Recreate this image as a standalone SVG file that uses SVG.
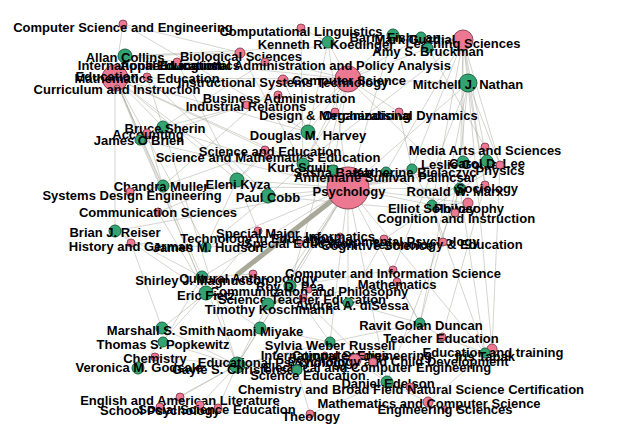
<svg xmlns="http://www.w3.org/2000/svg" width="628" height="445" viewBox="0 0 628 445">
<style>
.e{stroke:#aaaaa2;stroke-width:0.6;fill:none;opacity:0.85}
.p{fill:#ec7891;stroke:#8e4658;stroke-width:1}
.g{fill:#34a372;stroke:#1c6444;stroke-width:1}
text{font-family:"Liberation Sans",Arial,sans-serif;font-weight:bold;font-size:13px;fill:#000;text-anchor:middle;dominant-baseline:central}
</style>
<rect width="628" height="445" fill="#fff"/>
<g id="connectors">
<line class="e" x1="115" y1="78" x2="125" y2="56"/>
<line class="e" x1="115" y1="78" x2="163" y2="127"/>
<line class="e" x1="115" y1="78" x2="140" y2="140"/>
<line class="e" x1="115" y1="78" x2="163" y2="186"/>
<line class="e" x1="115" y1="78" x2="303" y2="164"/>
<line class="e" x1="115" y1="78" x2="308" y2="132"/>
<line class="e" x1="115" y1="78" x2="237" y2="180"/>
<line class="e" x1="115" y1="78" x2="115" y2="231"/>
<line class="e" x1="115" y1="78" x2="268" y2="196"/>
<line class="e" x1="115" y1="78" x2="206" y2="247"/>
<line class="e" x1="115" y1="78" x2="202" y2="277"/>
<line class="e" x1="115" y1="78" x2="348" y2="188"/>
<line class="e" x1="115" y1="78" x2="123" y2="24"/>
<line class="e" x1="115" y1="78" x2="348" y2="79"/>
<line class="e" x1="115" y1="78" x2="206" y2="293"/>
<line class="e" x1="125" y1="56" x2="348" y2="79"/>
<line class="e" x1="125" y1="56" x2="240" y2="53"/>
<line class="e" x1="125" y1="56" x2="463" y2="40"/>
<line class="e" x1="123" y1="24" x2="348" y2="79"/>
<line class="e" x1="123" y1="24" x2="308" y2="132"/>
<line class="e" x1="301" y1="28" x2="328" y2="42"/>
<line class="e" x1="301" y1="28" x2="303" y2="164"/>
<line class="e" x1="328" y1="42" x2="348" y2="79"/>
<line class="e" x1="328" y1="42" x2="348" y2="188"/>
<line class="e" x1="328" y1="42" x2="308" y2="132"/>
<line class="e" x1="393" y1="35" x2="463" y2="40"/>
<line class="e" x1="393" y1="35" x2="348" y2="79"/>
<line class="e" x1="393" y1="35" x2="348" y2="188"/>
<line class="e" x1="421" y1="37" x2="348" y2="79"/>
<line class="e" x1="421" y1="37" x2="463" y2="40"/>
<line class="e" x1="428" y1="48" x2="348" y2="79"/>
<line class="e" x1="428" y1="48" x2="485" y2="147"/>
<line class="e" x1="428" y1="48" x2="463" y2="40"/>
<line class="e" x1="463" y1="40" x2="468" y2="83"/>
<line class="e" x1="463" y1="40" x2="412" y2="169"/>
<line class="e" x1="463" y1="40" x2="460" y2="189"/>
<line class="e" x1="463" y1="40" x2="432" y2="205"/>
<line class="e" x1="463" y1="40" x2="463" y2="162"/>
<line class="e" x1="463" y1="40" x2="487" y2="161"/>
<line class="e" x1="463" y1="40" x2="303" y2="164"/>
<line class="e" x1="463" y1="40" x2="386" y2="172"/>
<line class="e" x1="463" y1="40" x2="500" y2="165"/>
<line class="e" x1="463" y1="40" x2="485" y2="185"/>
<line class="e" x1="468" y1="83" x2="348" y2="188"/>
<line class="e" x1="468" y1="83" x2="500" y2="165"/>
<line class="e" x1="468" y1="83" x2="455" y2="213"/>
<line class="e" x1="468" y1="83" x2="393" y2="270"/>
<line class="e" x1="468" y1="83" x2="348" y2="79"/>
<line class="e" x1="468" y1="83" x2="420" y2="323"/>
<line class="e" x1="468" y1="83" x2="492" y2="349"/>
<line class="e" x1="468" y1="83" x2="485" y2="185"/>
<line class="e" x1="348" y1="79" x2="308" y2="132"/>
<line class="e" x1="348" y1="79" x2="303" y2="164"/>
<line class="e" x1="348" y1="79" x2="237" y2="180"/>
<line class="e" x1="348" y1="79" x2="283" y2="80"/>
<line class="e" x1="348" y1="79" x2="399" y2="112"/>
<line class="e" x1="348" y1="79" x2="333" y2="170"/>
<line class="e" x1="348" y1="79" x2="290" y2="286"/>
<line class="e" x1="348" y1="79" x2="460" y2="189"/>
<line class="e" x1="240" y1="53" x2="303" y2="164"/>
<line class="e" x1="265" y1="62" x2="163" y2="127"/>
<line class="e" x1="177" y1="62" x2="237" y2="180"/>
<line class="e" x1="283" y1="80" x2="308" y2="132"/>
<line class="e" x1="283" y1="80" x2="163" y2="186"/>
<line class="e" x1="278" y1="95" x2="140" y2="140"/>
<line class="e" x1="247" y1="105" x2="163" y2="127"/>
<line class="e" x1="335" y1="112" x2="303" y2="164"/>
<line class="e" x1="399" y1="112" x2="412" y2="169"/>
<line class="e" x1="147" y1="133" x2="163" y2="186"/>
<line class="e" x1="147" y1="77" x2="163" y2="127"/>
<line class="e" x1="147" y1="77" x2="268" y2="196"/>
<line class="e" x1="163" y1="127" x2="348" y2="188"/>
<line class="e" x1="140" y1="140" x2="348" y2="188"/>
<line class="e" x1="163" y1="127" x2="237" y2="365"/>
<line class="e" x1="140" y1="140" x2="206" y2="293"/>
<line class="e" x1="265" y1="150" x2="237" y2="180"/>
<line class="e" x1="265" y1="150" x2="163" y2="186"/>
<line class="e" x1="348" y1="188" x2="303" y2="164"/>
<line class="e" x1="348" y1="188" x2="333" y2="170"/>
<line class="e" x1="348" y1="188" x2="386" y2="172"/>
<line class="e" x1="348" y1="188" x2="412" y2="169"/>
<line class="e" x1="348" y1="188" x2="432" y2="205"/>
<line class="e" x1="348" y1="188" x2="460" y2="189"/>
<line class="e" x1="348" y1="188" x2="463" y2="162"/>
<line class="e" x1="348" y1="188" x2="487" y2="161"/>
<line class="e" x1="348" y1="188" x2="268" y2="196"/>
<line class="e" x1="348" y1="188" x2="237" y2="180"/>
<line class="e" x1="348" y1="188" x2="348" y2="303"/>
<line class="e" x1="348" y1="188" x2="268" y2="304"/>
<line class="e" x1="348" y1="188" x2="290" y2="286"/>
<line class="e" x1="348" y1="188" x2="308" y2="132"/>
<line class="e" x1="348" y1="188" x2="206" y2="247"/>
<line class="e" x1="348" y1="188" x2="330" y2="342"/>
<line class="e" x1="348" y1="188" x2="260" y2="328"/>
<line class="e" x1="348" y1="188" x2="420" y2="323"/>
<line class="e" x1="348" y1="188" x2="115" y2="231"/>
<line class="e" x1="348" y1="188" x2="163" y2="186"/>
<line class="e" x1="348" y1="188" x2="202" y2="277"/>
<line class="e" x1="348" y1="188" x2="485" y2="353"/>
<line class="e" x1="348" y1="188" x2="387" y2="382"/>
<line class="e" x1="348" y1="188" x2="237" y2="365"/>
<line class="e" x1="348" y1="188" x2="500" y2="165"/>
<line class="e" x1="348" y1="188" x2="468" y2="203"/>
<line class="e" x1="485" y1="147" x2="463" y2="162"/>
<line class="e" x1="500" y1="165" x2="487" y2="161"/>
<line class="e" x1="500" y1="165" x2="460" y2="189"/>
<line class="e" x1="500" y1="165" x2="492" y2="349"/>
<line class="e" x1="485" y1="185" x2="460" y2="189"/>
<line class="e" x1="485" y1="185" x2="442" y2="337"/>
<line class="e" x1="468" y1="203" x2="432" y2="205"/>
<line class="e" x1="455" y1="213" x2="432" y2="205"/>
<line class="e" x1="455" y1="213" x2="386" y2="172"/>
<line class="e" x1="455" y1="213" x2="268" y2="196"/>
<line class="e" x1="443" y1="242" x2="432" y2="205"/>
<line class="e" x1="384" y1="239" x2="460" y2="189"/>
<line class="e" x1="384" y1="239" x2="206" y2="247"/>
<line class="e" x1="384" y1="239" x2="348" y2="303"/>
<line class="e" x1="258" y1="231" x2="237" y2="180"/>
<line class="e" x1="258" y1="231" x2="206" y2="293"/>
<line class="e" x1="130" y1="192" x2="163" y2="186"/>
<line class="e" x1="158" y1="212" x2="237" y2="180"/>
<line class="e" x1="158" y1="212" x2="206" y2="293"/>
<line class="e" x1="131" y1="243" x2="206" y2="247"/>
<line class="e" x1="131" y1="243" x2="162" y2="328"/>
<line class="e" x1="253" y1="274" x2="202" y2="277"/>
<line class="e" x1="253" y1="274" x2="268" y2="304"/>
<line class="e" x1="393" y1="270" x2="348" y2="303"/>
<line class="e" x1="393" y1="270" x2="290" y2="286"/>
<line class="e" x1="397" y1="282" x2="420" y2="323"/>
<line class="e" x1="397" y1="282" x2="268" y2="304"/>
<line class="e" x1="303" y1="298" x2="348" y2="303"/>
<line class="e" x1="303" y1="298" x2="206" y2="293"/>
<line class="e" x1="309" y1="290" x2="268" y2="304"/>
<line class="e" x1="206" y1="293" x2="162" y2="328"/>
<line class="e" x1="206" y1="293" x2="260" y2="328"/>
<line class="e" x1="206" y1="293" x2="138" y2="368"/>
<line class="e" x1="202" y1="277" x2="163" y2="342"/>
<line class="e" x1="202" y1="277" x2="237" y2="365"/>
<line class="e" x1="268" y1="304" x2="237" y2="365"/>
<line class="e" x1="260" y1="328" x2="237" y2="365"/>
<line class="e" x1="260" y1="328" x2="330" y2="342"/>
<line class="e" x1="162" y1="328" x2="237" y2="365"/>
<line class="e" x1="163" y1="342" x2="237" y2="365"/>
<line class="e" x1="155" y1="357" x2="138" y2="368"/>
<line class="e" x1="155" y1="357" x2="237" y2="365"/>
<line class="e" x1="180" y1="397" x2="237" y2="365"/>
<line class="e" x1="160" y1="407" x2="237" y2="365"/>
<line class="e" x1="218" y1="408" x2="237" y2="365"/>
<line class="e" x1="200" y1="405" x2="237" y2="365"/>
<line class="e" x1="237" y1="365" x2="355" y2="360"/>
<line class="e" x1="237" y1="365" x2="330" y2="342"/>
<line class="e" x1="237" y1="365" x2="297" y2="370"/>
<line class="e" x1="310" y1="414" x2="297" y2="370"/>
<line class="e" x1="310" y1="414" x2="387" y2="382"/>
<line class="e" x1="330" y1="342" x2="355" y2="360"/>
<line class="e" x1="330" y1="342" x2="420" y2="323"/>
<line class="e" x1="355" y1="360" x2="387" y2="382"/>
<line class="e" x1="355" y1="360" x2="485" y2="353"/>
<line class="e" x1="373" y1="362" x2="420" y2="323"/>
<line class="e" x1="410" y1="387" x2="387" y2="382"/>
<line class="e" x1="428" y1="402" x2="387" y2="382"/>
<line class="e" x1="428" y1="402" x2="485" y2="353"/>
<line class="e" x1="442" y1="337" x2="420" y2="323"/>
<line class="e" x1="442" y1="337" x2="485" y2="353"/>
<line class="e" x1="492" y1="349" x2="485" y2="353"/>
<line class="e" x1="485" y1="353" x2="432" y2="205"/>
<line class="e" x1="485" y1="353" x2="460" y2="189"/>
<line class="e" x1="387" y1="382" x2="460" y2="189"/>
<line class="e" x1="420" y1="323" x2="463" y2="162"/>
<line class="e" x1="348" y1="303" x2="420" y2="323"/>
<line class="e" x1="290" y1="286" x2="330" y2="342"/>
<line class="e" x1="290" y1="286" x2="387" y2="382"/>
<line class="e" x1="268" y1="196" x2="206" y2="247"/>
<line class="e" x1="237" y1="180" x2="206" y2="247"/>
<line class="e" x1="115" y1="231" x2="202" y2="277"/>
<line class="e" x1="115" y1="231" x2="206" y2="293"/>
<line class="e" x1="303" y1="164" x2="268" y2="196"/>
<line class="e" x1="412" y1="169" x2="432" y2="205"/>
<line class="e" x1="487" y1="161" x2="432" y2="205"/>
<line class="e" x1="463" y1="162" x2="386" y2="172"/>
<line x1="348" y1="188" x2="238" y2="274" stroke="#a9a99a" stroke-width="5" stroke-linecap="round"/>
</g>
<g id="n-psychology"><circle class="p" cx="348" cy="188" r="21"/><text x="349" y="191">Psychology</text></g>
<g id="n-education"><circle class="p" cx="115" cy="78" r="13"/><text x="107" y="76">Education</text></g>
<g id="n-computer-science"><circle class="p" cx="348" cy="79" r="13"/><text x="349" y="80">Computer Science</text></g>
<g id="n-learning-sciences"><circle class="p" cx="463" cy="40" r="10"/><text x="463" y="43">Learning Sciences</text></g>
<g id="n-cse"><circle class="p" cx="123" cy="24" r="4"/><text x="123" y="27">Computer Science and Engineering</text></g>
<g id="n-complin"><circle class="p" cx="301" cy="28" r="4"/><text x="301" y="31">Computational Linguistics</text></g>
<g id="n-koedinger"><circle class="g" cx="328" cy="42" r="6"/><text x="326" y="44">Kenneth R. Koedinger</text></g>
<g id="n-fishman"><circle class="g" cx="393" cy="35" r="6"/><text x="395" y="37">Barry Fishman</text></g>
<g id="n-guzdial"><circle class="g" cx="421" cy="37" r="5"/><text x="415" y="39">Mark Guzdial</text></g>
<g id="n-bruckman"><circle class="g" cx="428" cy="48" r="5"/><text x="428" y="51">Amy S. Bruckman</text></g>
<g id="n-nathan"><circle class="g" cx="468" cy="83" r="9"/><text x="468" y="84">Mitchell J. Nathan</text></g>
<g id="n-collins"><circle class="g" cx="125" cy="56" r="7"/><text x="125" y="57">Allan Collins</text></g>
<g id="n-bio"><circle class="p" cx="240" cy="53" r="5"/><text x="241" y="56">Biological Sciences</text></g>
<g id="n-intl"><circle class="p" cx="150" cy="66" r="3"/><text x="150" y="65">International Education</text></g>
<g id="n-applied-ling"><circle class="p" cx="177" cy="62" r="4"/><text x="180" y="65">Applied Linguistics</text></g>
<g id="n-edadmin"><circle class="p" cx="265" cy="62" r="4"/><text x="304" y="65">Educational Administration and Policy Analysis</text></g>
<g id="n-math-ed"><circle class="p" cx="147" cy="77" r="4"/><text x="147" y="78">Mathematics Education</text></g>
<g id="n-curric"><circle class="p" cx="117" cy="88" r="3"/><text x="117" y="89">Curriculum and Instruction</text></g>
<g id="n-ist"><circle class="p" cx="283" cy="80" r="5"/><text x="283" y="82">Instructional Systems Technology</text></g>
<g id="n-busadmin"><circle class="p" cx="278" cy="95" r="4"/><text x="279" y="98">Business Administration</text></g>
<g id="n-indrel"><circle class="p" cx="247" cy="105" r="4"/><text x="246" y="106">Industrial Relations</text></g>
<g id="n-design"><circle class="p" cx="335" cy="112" r="4"/><text x="335" y="115">Design &amp; Merchandising</text></g>
<g id="n-orgdyn"><circle class="p" cx="399" cy="112" r="4"/><text x="400" y="115">Organizational Dynamics</text></g>
<g id="n-harvey"><circle class="g" cx="308" cy="132" r="7"/><text x="308" y="135">Douglas M. Harvey</text></g>
<g id="n-sherin"><circle class="g" cx="163" cy="127" r="6"/><text x="165" y="128">Bruce Sherin</text></g>
<g id="n-accounting"><circle class="p" cx="147" cy="133" r="4"/><text x="148" y="134">Accounting</text></g>
<g id="n-obrien"><circle class="g" cx="140" cy="140" r="5"/><text x="139" y="140">James O'Brien</text></g>
<g id="n-sci-ed"><circle class="p" cx="265" cy="150" r="4"/><text x="270" y="151">Science and Education</text></g>
<g id="n-sci-math-ed"><circle class="p" cx="268" cy="157" r="3"/><text x="268" y="157">Science and Mathematics Education</text></g>
<g id="n-squire"><circle class="g" cx="303" cy="164" r="6"/><text x="303" y="167">Kurt Squire</text></g>
<g id="n-barab"><circle class="g" cx="333" cy="170" r="5"/><text x="333" y="172">Sasha Barab</text></g>
<g id="n-palincsar"><circle class="g" cx="386" cy="172" r="5"/><text x="385" y="177">Annemarie Sullivan Palincsar</text></g>
<g id="n-bielaczyc"><circle class="g" cx="412" cy="169" r="5"/><text x="415" y="172">Katherine Bielaczyc</text></g>
<g id="n-media"><circle class="p" cx="485" cy="147" r="4"/><text x="485" y="150">Media Arts and Sciences</text></g>
<g id="n-gomez"><circle class="g" cx="463" cy="162" r="6"/><text x="463" y="164">Leslie Gomez</text></g>
<g id="n-lee"><circle class="g" cx="487" cy="161" r="6"/><text x="487" y="163">Carol D. Lee</text></g>
<g id="n-physics"><circle class="p" cx="500" cy="165" r="4"/><text x="500" y="170">Physics</text></g>
<g id="n-marx"><circle class="g" cx="460" cy="189" r="6"/><text x="455" y="191">Ronald W. Marx</text></g>
<g id="n-sociology"><circle class="p" cx="485" cy="185" r="4"/><text x="487" y="188">Sociology</text></g>
<g id="n-soloway"><circle class="g" cx="432" cy="205" r="5"/><text x="432" y="208">Elliot Soloway</text></g>
<g id="n-philosophy"><circle class="p" cx="468" cy="203" r="5"/><text x="469" y="208">Philosophy</text></g>
<g id="n-cogins"><circle class="p" cx="455" cy="213" r="4"/><text x="456" y="218">Cognition and Instruction</text></g>
<g id="n-muller"><circle class="g" cx="163" cy="186" r="6"/><text x="161" y="186">Chandra Muller</text></g>
<g id="n-sde"><circle class="p" cx="130" cy="192" r="4"/><text x="132" y="195">Systems Design Engineering</text></g>
<g id="n-kyza"><circle class="g" cx="237" cy="180" r="7"/><text x="238" y="184">Eleni Kyza</text></g>
<g id="n-cobb"><circle class="g" cx="268" cy="196" r="7"/><text x="268" y="197">Paul Cobb</text></g>
<g id="n-commsci"><circle class="p" cx="158" cy="212" r="4"/><text x="158" y="212">Communication Sciences</text></g>
<g id="n-reiser"><circle class="g" cx="115" cy="231" r="6"/><text x="115" y="232">Brian J. Reiser</text></g>
<g id="n-history"><circle class="p" cx="131" cy="243" r="4"/><text x="131" y="246">History and German</text></g>
<g id="n-hudson"><circle class="g" cx="206" cy="247" r="5"/><text x="208" y="247">James M. Hudson</text></g>
<g id="n-special-major"><circle class="p" cx="258" cy="231" r="4"/><text x="258" y="233">Special Major</text><text x="257" y="238">Technology in Education</text></g>
<g id="n-special-ed"><circle class="p" cx="300" cy="243" r="3"/><text x="300" y="243">Special Education</text></g>
<g id="n-informatics"><circle class="p" cx="340" cy="236" r="3"/><text x="340" y="236">Informatics</text></g>
<g id="n-cogsci"><circle class="p" cx="384" cy="239" r="4"/><text x="377" y="245">Cognitive Science</text><text x="395" y="241">Developmental Psychology</text></g>
<g id="n-tech-ed"><circle class="p" cx="443" cy="242" r="4"/><text x="447" y="244">Technology &amp; Education</text></g>
<g id="n-magnusson"><circle class="g" cx="202" cy="277" r="6"/><text x="202" y="280">Shirley J. Magnusson</text></g>
<g id="n-anthro"><circle class="p" cx="253" cy="274" r="4"/><text x="248" y="278">Cultural Anthropology</text></g>
<g id="n-cis"><circle class="p" cx="393" cy="270" r="4"/><text x="393" y="273">Computer and Information Science</text></g>
<g id="n-pea"><circle class="g" cx="290" cy="286" r="6"/><text x="290" y="286">Roy D. Pea</text></g>
<g id="n-math"><circle class="p" cx="397" cy="282" r="4"/><text x="397" y="284">Mathematics</text></g>
<g id="n-commphil"><circle class="p" cx="309" cy="290" r="3"/><text x="309" y="291">Communication and Philosophy</text></g>
<g id="n-fietz"><circle class="g" cx="206" cy="293" r="7"/><text x="206" y="295">Eric Fietz</text></g>
<g id="n-ste"><circle class="p" cx="303" cy="298" r="4"/><text x="302" y="299">Science Teacher Education</text></g>
<g id="n-disessa"><circle class="g" cx="348" cy="303" r="5"/><text x="352" y="305">Andrea A. diSessa</text></g>
<g id="n-koschmann"><circle class="g" cx="268" cy="304" r="6"/><text x="269" y="309">Timothy Koschmann</text></g>
<g id="n-duncan"><circle class="g" cx="420" cy="323" r="5"/><text x="421" y="325">Ravit Golan Duncan</text></g>
<g id="n-teached"><circle class="p" cx="442" cy="337" r="4"/><text x="441" y="338">Teacher Education</text></g>
<g id="n-smith"><circle class="g" cx="162" cy="328" r="6"/><text x="161" y="330">Marshall S. Smith</text></g>
<g id="n-miyake"><circle class="g" cx="260" cy="328" r="6"/><text x="260" y="331">Naomi Miyake</text></g>
<g id="n-popkewitz"><circle class="g" cx="163" cy="342" r="5"/><text x="163" y="344">Thomas S. Popkewitz</text></g>
<g id="n-russell"><circle class="g" cx="330" cy="342" r="5"/><text x="330" y="345">Sylvia Weber Russell</text></g>
<g id="n-intl-rel"><circle class="p" cx="325" cy="355" r="3"/><text x="325" y="355">International Studies</text></g>
<g id="n-compeng"><circle class="p" cx="362" cy="355" r="3"/><text x="362" y="355">Computer Engineering</text></g>
<g id="n-edtrain"><circle class="p" cx="492" cy="349" r="5"/><text x="493" y="352">Education and training</text></g>
<g id="n-tabak"><circle class="g" cx="485" cy="353" r="5"/><text x="485" y="356">Iris Tabak</text></g>
<g id="n-chemistry"><circle class="p" cx="155" cy="357" r="4"/><text x="155" y="358">Chemistry</text></g>
<g id="n-godsale"><circle class="g" cx="138" cy="368" r="6"/><text x="139" y="367">Veronica M. Godsale</text></g>
<g id="n-edpsych"><circle class="g" cx="237" cy="365" r="8"/><text x="273" y="362">Educational Psychology</text><text x="237" y="369">Gayle S. Christensen</text></g>
<g id="n-child"><circle class="p" cx="355" cy="360" r="6"/><text x="398" y="361">Psychology and Child Development</text></g>
<g id="n-ece"><circle class="p" cx="373" cy="362" r="4"/><text x="377" y="367">Electrical and Computer Engineering</text></g>
<g id="n-scied2"><circle class="g" cx="297" cy="370" r="5"/><text x="308" y="375">Science Education</text></g>
<g id="n-edelson"><circle class="g" cx="387" cy="382" r="6"/><text x="388" y="383">Daniel Edelson</text></g>
<g id="n-chembroad"><circle class="p" cx="410" cy="387" r="4"/><text x="411" y="389">Chemistry and Broad Field Natural Science Certification</text></g>
<g id="n-mathcs"><circle class="p" cx="428" cy="402" r="5"/><text x="429" y="403">Mathematics and Computer Science</text></g>
<g id="n-engsci"><circle class="p" cx="445" cy="409" r="3"/><text x="445" y="409">Engineering Sciences</text></g>
<g id="n-theology"><circle class="p" cx="310" cy="414" r="4"/><text x="311" y="416">Theology</text></g>
<g id="n-english"><circle class="p" cx="180" cy="397" r="4"/><text x="180" y="400">English and American Literature</text></g>
<g id="n-schoolpsych"><circle class="p" cx="160" cy="407" r="4"/><text x="160" y="410">School Psychology</text></g>
<g id="n-socsci"><circle class="p" cx="218" cy="408" r="4"/><circle class="p" cx="200" cy="405" r="4"/><text x="217" y="409">Social Science Education</text></g>
</svg>
